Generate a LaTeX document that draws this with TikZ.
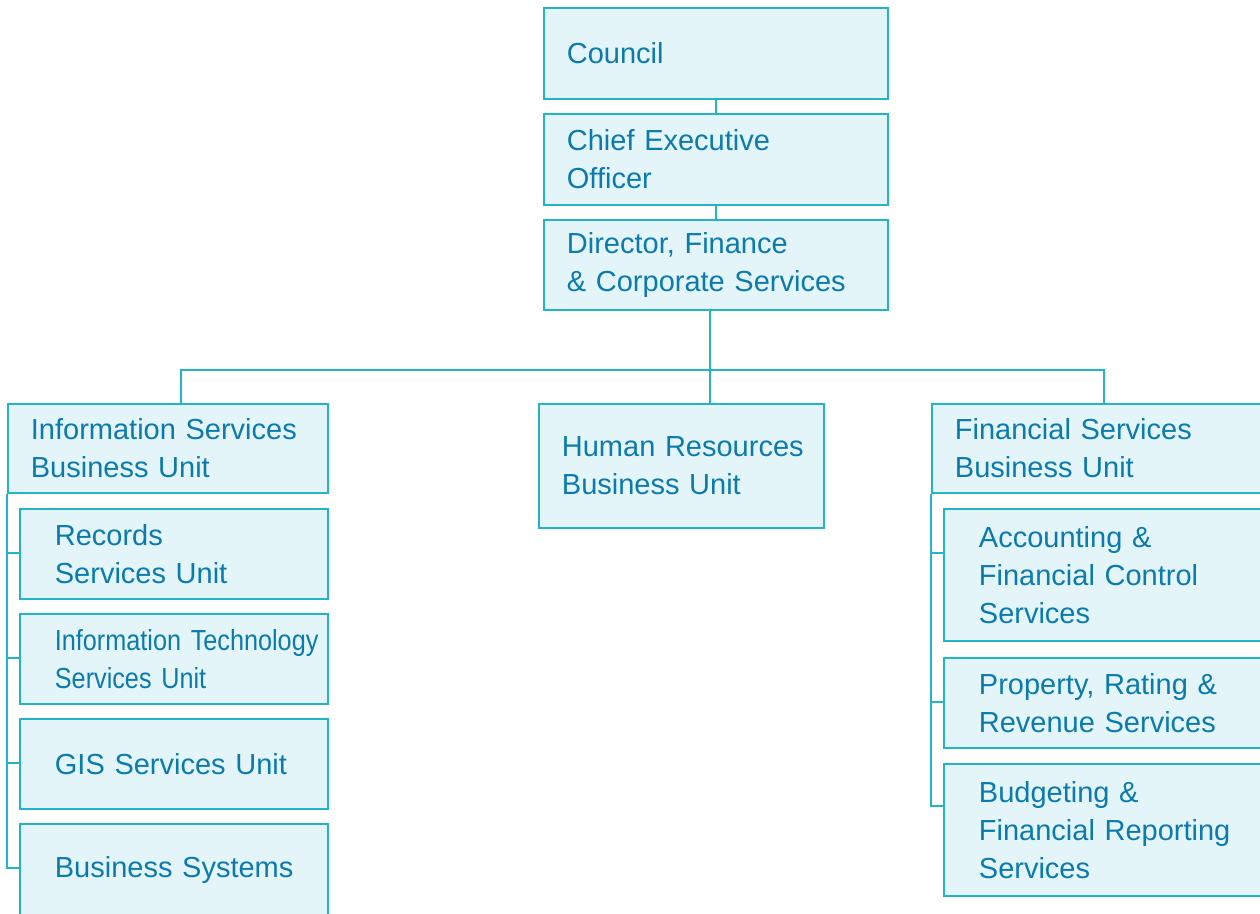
\documentclass[tikz,border=0pt]{standalone}
\usepackage{fontspec}
\setmainfont{Liberation Sans}
\newfontfamily\narrowfont[FakeStretch=0.87]{Liberation Sans}
\usepackage{tikz}
\usetikzlibrary{positioning,calc}

\definecolor{orgline}{HTML}{22B4C8}
\definecolor{orgfill}{HTML}{E4F5F9}
\definecolor{orgtext}{HTML}{0B7BAE}

\tikzset{
  orgbox/.style={draw=orgline, fill=orgfill, line width=1.8pt, text=orgtext,
    anchor=north west, align=left, inner sep=0pt,
    font=\fontsize{29}{38}\selectfont,
    execute at begin node={\leftskip=23pt\relax}},
  subbox/.style={orgbox, text width=308pt, minimum height=90pt,
    execute at begin node={\leftskip=35pt\relax}},
  link/.style={draw=orgline, line width=1.8pt},
}

\begin{document}
\begin{tikzpicture}[x=1pt, y=-1pt]
\useasboundingbox (0,0) rectangle (1260,913);
\clip (0,0) rectangle (1260,913);

% top of the chart
\node[orgbox, text width=344pt, minimum height=91pt] (council) at (543,7) {Council};
\node[orgbox, text width=344pt, minimum height=91pt] (ceo) at (543,113) {Chief Executive\\Officer};
\node[orgbox, text width=344pt, minimum height=90pt] (dir) at (543,219) {Director, Finance\\\& Corporate Services};

% business units
\node[orgbox, text width=320pt, minimum height=89pt] (is) at (7,403) {Information Services\\Business Unit};
\node[orgbox, text width=285pt, minimum height=124pt] (hr) at (538,403) {Human Resources\\Business Unit};
\node[orgbox, text width=400pt, minimum height=89pt] (fs) at (931,403) {Financial Services\\Business Unit};

% units under information services
\node[subbox] (rec) at (19,508) {Records\\Services Unit};
\node[subbox] (it) at (19,613) {\narrowfont Information Technology\\Services Unit};
\node[subbox] (gis) at (19,718) {GIS Services Unit};
\node[subbox, minimum height=92pt] (bs) at (19,823) {Business Systems};

% units under financial services
\node[subbox, text width=400pt, minimum height=132pt] (acc) at (943,508) {Accounting \&\\Financial Control\\Services};
\node[subbox, text width=400pt] (prop) at (943,657) {Property, Rating \&\\Revenue Services};
\node[subbox, text width=400pt, minimum height=132pt] (bud) at (943,763) {Budgeting \&\\Financial Reporting\\Services};

% links
\draw[link] (council) -- (ceo);
\draw[link] (ceo) -- (dir);
\coordinate (bus) at (710,370);
\coordinate (busl) at (181,370);
\coordinate (busr) at (1104,370);
\draw[link] (dir.south -| bus) -- (hr.north -| bus);
\draw[link] (is.north -| busl) |- (busr) -- (fs.north -| busr);

\draw[link] (is.south west) |- ($(bs.north west)+(0,45)$);
\foreach \u in {rec,it,gis}
  \draw[link] ($(\u.north west)+(0,45)$) -- ++(-12,0);
\draw[link] (fs.south west) |- ($(bud.north west)+(0,43)$);
\foreach \u in {acc,prop}
  \draw[link] ($(\u.north west)+(0,45)$) -- ++(-12,0);
\end{tikzpicture}
\end{document}
